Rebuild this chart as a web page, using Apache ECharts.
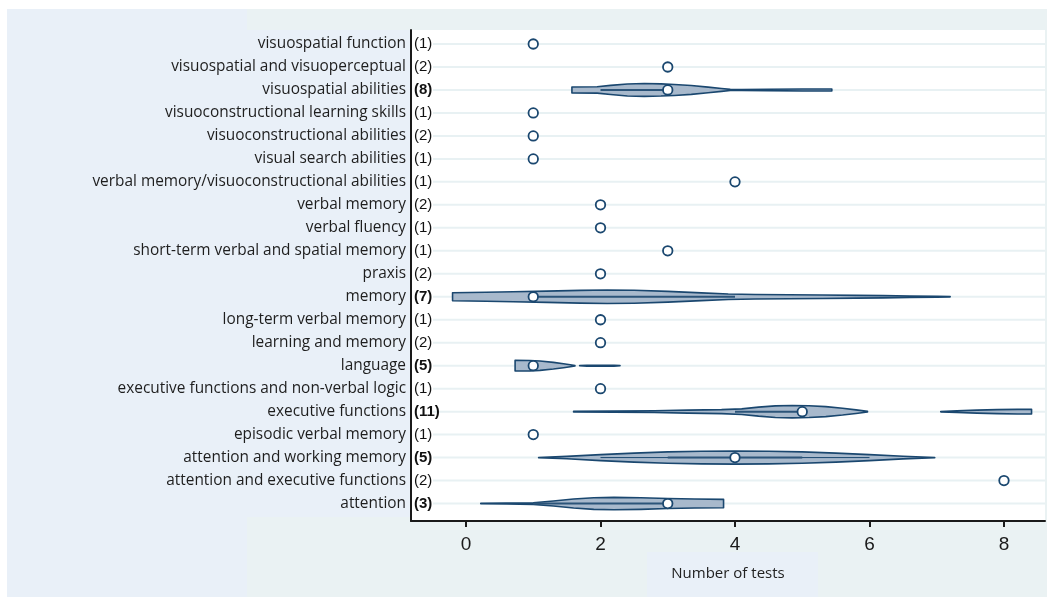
<!DOCTYPE html>
<html>
<head>
<meta charset="utf-8">
<script src="https://cdn.jsdelivr.net/npm/echarts@6/dist/echarts.min.js"></script>
<style>
  html, body { margin: 0; padding: 0; background: #ffffff; }
  #chart { width: 1049px; height: 597px; }
</style>
</head>
<body>
<div id="chart"></div>
<script>
// Cognitive domains, listed bottom to top
const categories = [
  'attention',
  'attention and executive functions',
  'attention and working memory',
  'episodic verbal memory',
  'executive functions',
  'executive functions and non-verbal logic',
  'language',
  'learning and memory',
  'long-term verbal memory',
  'memory',
  'praxis',
  'short-term verbal and spatial memory',
  'verbal fluency',
  'verbal memory',
  'verbal memory/visuoconstructional abilities',
  'visual search abilities',
  'visuoconstructional abilities',
  'visuoconstructional learning skills',
  'visuospatial abilities',
  'visuospatial and visuoperceptual',
  'visuospatial function'
];

// Number of studies per domain
const counts = [3, 2, 5, 1, 11, 1, 5, 2, 1, 7, 2, 1, 1, 2, 1, 1, 2, 1, 8, 2, 1];

// Median number of tests per domain
const medians = [3, 8, 4, 1, 5, 2, 1, 2, 2, 1, 2, 3, 2, 2, 4, 1, 1, 1, 3, 3, 1];

const xTicks = [0, 2, 4, 6, 8];

// Density outlines: [number of tests, density]
const visuospatialAbilitiesDensity = [[1.575, 3], [1.95, 3.2], [2.15, 4.6], [2.4, 6], [2.65, 6.4], [2.9, 6.1], [3.1, 5.5], [3.35, 4.4], [3.6, 2.8], [3.8, 1.4], [3.93, 0.6], [4.1, 0.5], [4.5, 0.7], [5.0, 1.0], [5.3, 1.0], [5.44, 1.0]];
const memoryDensity = [[-0.2, 4], [0.3, 4.5], [0.7, 5], [1.2, 5.6], [1.7, 6.4], [2.1, 6.8], [2.5, 6.5], [3.0, 5.4], [3.5, 3.9], [3.9, 2.8], [4.3, 2.3], [4.8, 2], [5.3, 1.7], [5.8, 1.4], [6.2, 1.1], [6.6, 0.7], [7.0, 0.35], [7.2, 0.1]];
const languageDensity = [[0.73, 5.3], [0.95, 5.2], [1.1, 4.7], [1.3, 3.3], [1.45, 2.0], [1.55, 1.0], [1.62, 0.2]];
const languageTailDensity = [[1.69, 0.1], [1.8, 0.4], [2.0, 0.5], [2.2, 0.4], [2.29, 0.1]];
const executiveDensity = [[1.6, 0.3], [2.2, 0.5], [2.8, 0.9], [3.3, 1.5], [3.8, 2.0], [4.1, 2.8], [4.35, 4.5], [4.6, 5.8], [4.85, 6.2], [5.1, 5.9], [5.35, 5.0], [5.6, 3.4], [5.8, 1.8], [5.97, 0.3]];
const executiveTailDensity = [[7.06, 0.2], [7.3, 0.8], [7.6, 1.5], [7.9, 2.0], [8.2, 2.3], [8.41, 2.3]];
const attentionWorkingMemoryDensity = [[1.08, 0.1], [1.5, 1.2], [2.0, 3.0], [2.5, 4.5], [3.0, 5.7], [3.5, 6.3], [4.0, 6.5], [4.5, 6.3], [5.0, 5.7], [5.5, 4.5], [6.0, 3.0], [6.5, 1.3], [6.97, 0.1]];
const attentionDensity = [[0.22, 0.2], [0.6, 0.5], [1.0, 0.8], [1.3, 2.5], [1.6, 4.5], [1.9, 5.8], [2.2, 6.2], [2.6, 5.8], [3.0, 5.0], [3.4, 4.5], [3.83, 4.2]];

// Interquartile ranges and adjacent-value ranges
const visuospatialAbilitiesBox = [2, 3];
const memoryBox = [1, 4];
const executiveBox = [4, 5];
const attentionWorkingMemoryBox = [3, 5];
const attentionWorkingMemoryWhisker = [2, 6];
const attentionBox = [1, 3];

const violins = [
  { name: 'visuospatial abilities', segments: [visuospatialAbilitiesDensity], box: visuospatialAbilitiesBox },
  { name: 'memory', segments: [memoryDensity], box: memoryBox },
  { name: 'language', segments: [languageDensity, languageTailDensity] },
  { name: 'executive functions', segments: [executiveDensity, executiveTailDensity], box: executiveBox },
  { name: 'attention and working memory', segments: [attentionWorkingMemoryDensity], box: attentionWorkingMemoryBox, whisker: attentionWorkingMemoryWhisker },
  { name: 'attention', segments: [attentionDensity], box: attentionBox }
];

const NAVY = '#1a476f';
const VIOLIN_FILL = '#a8b9cc';
const violinScale = 1 / 22.98; // density units -> row units

const rowValues = categories.map((c, i) => i);

const chart = echarts.init(document.getElementById('chart'), null, { renderer: 'canvas' });

chart.setOption({
  animation: false,
  backgroundColor: '#ffffff',
  graphic: [
    { type: 'rect', z: -100, silent: true, shape: { x: 7, y: 9, width: 1040, height: 588 }, style: { fill: '#eaf2f3' } },
    { type: 'rect', z: -99, silent: true, shape: { x: 7, y: 9, width: 240, height: 588 }, style: { fill: '#e9f0f8' } },
    { type: 'rect', z: -99, silent: true, shape: { x: 247, y: 30, width: 164, height: 487 }, style: { fill: '#e9f0f8' } },
    { type: 'rect', z: -99, silent: true, shape: { x: 647, y: 552, width: 171, height: 45 }, style: { fill: '#e9f0f8' } }
  ],
  grid: {
    left: 411, right: 4, top: 30, bottom: 76,
    show: true, backgroundColor: '#ffffff', borderWidth: 0,
    containLabel: false
  },
  xAxis: {
    type: 'value',
    min: -0.818, max: 8.61,
    z: 10,
    axisLine: { show: true, onZero: false, lineStyle: { color: '#1a1a1a', width: 2 } },
    axisTick: { show: true, customValues: xTicks, length: 6, lineStyle: { color: '#1a1a1a', width: 2 } },
    axisLabel: { customValues: xTicks, margin: 14, color: '#1a1a1a', fontFamily: 'Liberation Sans, Arial, sans-serif', fontSize: 19 },
    splitLine: { show: false },
    name: 'Number of tests',
    nameLocation: 'middle',
    nameGap: 45,
    nameTextStyle: { color: '#222', fontFamily: 'Open Sans, sans-serif', fontSize: 15 }
  },
  yAxis: [
    {
      type: 'value',
      min: -0.76, max: 20.61,
      z: 10,
      axisLine: { show: true, onZero: false, lineStyle: { color: '#1a1a1a', width: 2 } },
      axisTick: { show: false },
      axisLabel: {
        customValues: rowValues,
        formatter: v => categories[v],
        margin: 5,
        color: '#1e1e1e',
        fontFamily: 'Open Sans, sans-serif',
        fontSize: 15.4
      },
      splitLine: { show: false }
    },
    {
      type: 'value',
      position: 'left',
      min: -0.76, max: 20.61,
      z: 10,
      axisLine: { show: false },
      axisTick: { show: false },
      axisLabel: {
        inside: true,
        customValues: rowValues,
        margin: 3,
        formatter: v => counts[v] >= 3 ? '{b|(' + counts[v] + ')}' : '{n|(' + counts[v] + ')}',
        rich: {
          b: { fontWeight: 'bold', color: '#111', fontFamily: 'Liberation Sans, Arial, sans-serif', fontSize: 15 },
          n: { color: '#111', fontFamily: 'Liberation Sans, Arial, sans-serif', fontSize: 15 }
        }
      },
      splitLine: { show: false }
    }
  ],
  series: [
    {
      // horizontal guide line for every domain
      type: 'custom',
      silent: true,
      z: 1,
      data: rowValues.map(r => [0, r]),
      renderItem: (params, api) => {
        const cs = params.coordSys;
        const y = api.coord([0, api.value(1)])[1];
        return {
          type: 'line',
          shape: { x1: cs.x + 22, y1: y, x2: cs.x + cs.width, y2: y },
          style: { stroke: '#e8f1f3', lineWidth: 2 }
        };
      }
    },
    {
      type: 'custom',
      silent: true,
      z: 2,
      data: violins.map(v => [medians[categories.indexOf(v.name)], categories.indexOf(v.name)]),
      renderItem: (params, api) => {
        const v = violins[params.dataIndex];
        const row = categories.indexOf(v.name);
        const children = [];
        v.segments.forEach(seg => {
          const upper = seg.map(p => api.coord([p[0], row + p[1] * violinScale]));
          const lower = seg.slice().reverse().map(p => api.coord([p[0], row - p[1] * violinScale]));
          children.push({
            type: 'polygon',
            shape: { points: upper.concat(lower) },
            style: { fill: VIOLIN_FILL, stroke: NAVY, lineWidth: 1.6, lineJoin: 'round' }
          });
        });
        if (v.whisker) {
          const a = api.coord([v.whisker[0], row]);
          const b = api.coord([v.whisker[1], row]);
          children.push({ type: 'line', shape: { x1: a[0], y1: a[1], x2: b[0], y2: b[1] }, style: { stroke: NAVY, lineWidth: 1 } });
        }
        if (v.box) {
          const a = api.coord([v.box[0], row]);
          const b = api.coord([v.box[1], row]);
          children.push({ type: 'line', shape: { x1: a[0], y1: a[1], x2: b[0], y2: b[1] }, style: { stroke: '#2b5479', lineWidth: 2 } });
        }
        return { type: 'group', children };
      }
    },
    {
      type: 'scatter',
      z: 3,
      symbol: 'circle',
      symbolSize: 9.5,
      itemStyle: { color: '#ffffff', borderColor: NAVY, borderWidth: 1.8, opacity: 1 },
      data: medians.map((m, i) => [m, i])
    }
  ]
});
</script>
</body>
</html>
